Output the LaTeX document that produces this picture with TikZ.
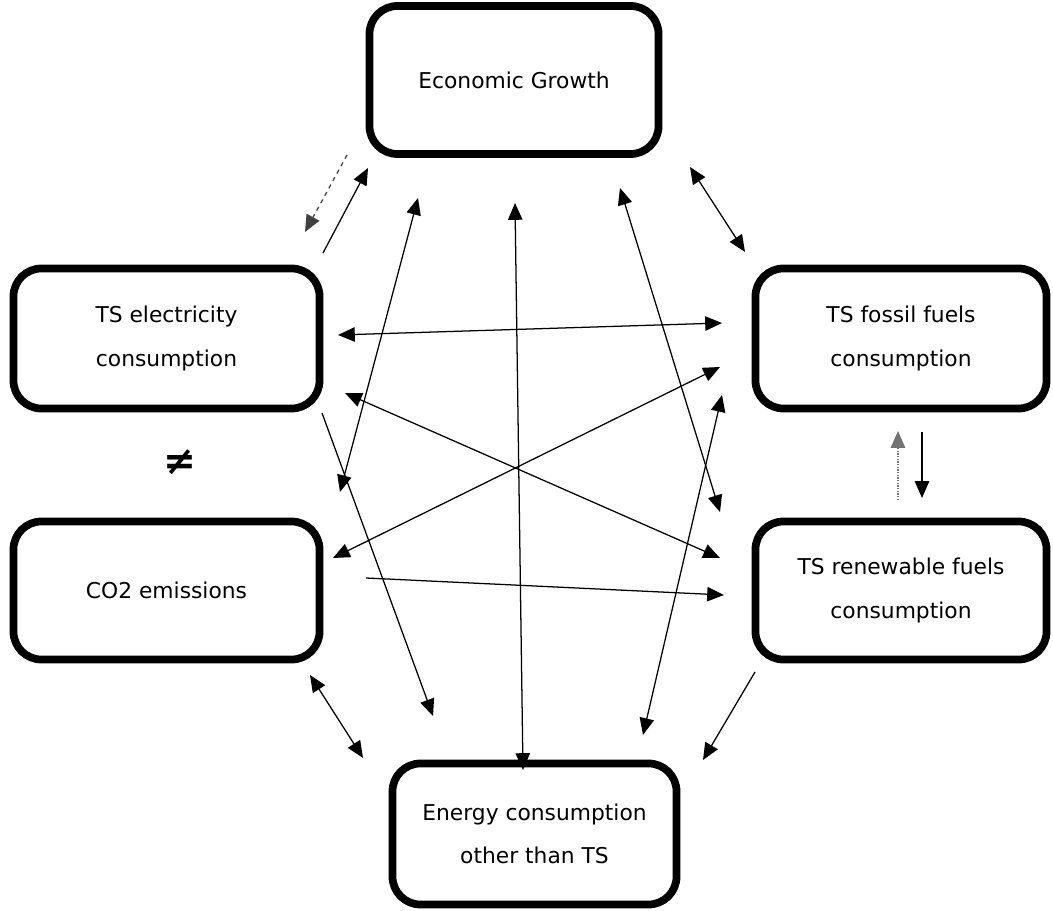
\documentclass[tikz,border=0pt]{standalone}
\usepackage{fontspec}
\setmainfont{DejaVu Sans}
\usetikzlibrary{arrows.meta}
\tikzset{
    box/.style = {draw, line width = 5.5pt, rounded corners = 0.7cm, align = center, font = {\fontsize{15.5}{31}\selectfont}},
    tip/.tip = {Triangle[length = 0.42cm, width = 0.36cm]},
    link/.style = {line width = 0.9pt, tip-tip},
    oneway/.style = {line width = 0.9pt, -tip},
    sign/.style = {font = {\fontsize{28}{28}\selectfont\bfseries}}
}
\begin{document}
\begin{tikzpicture}[x = 0.025cm, y = -0.025cm]
                \useasboundingbox (0,0) rectangle (1053,911);
                \node[box, minimum width = 7.225cm, minimum height = 3.7cm] (growth) at (514,80) {Economic Growth};
                \node[box, minimum width = 7.65cm, minimum height = 3.5cm] (elec) at (166.5,338.5) {TS electricity\\consumption};
                \node[box, minimum width = 7.275cm, minimum height = 3.5cm] (fossil) at (901,338.5) {TS fossil fuels\\consumption};
                \node[box, minimum width = 7.65cm, minimum height = 3.45cm] (co2) at (166.5,590.5) {CO2 emissions};
                \node[box, minimum width = 7.275cm, minimum height = 3.45cm] (renew) at (901,590.5) {TS renewable fuels\\consumption};
                \node[box, minimum width = 7.1cm, minimum height = 3.525cm] (energy) at (534.5,834) {Energy consumption\\other than TS};
                \node[sign] (unequal) at (180,462) {≠};
                \coordinate (ge1) at (347,155);
                \coordinate (ge2) at (305,232);
                \coordinate (eg1) at (323,253);
                \coordinate (eg2) at (368,168);
                \coordinate (gc1) at (418,198);
                \coordinate (gc2) at (340,492);
                \coordinate (gn1) at (515,203);
                \coordinate (gn2) at (523,770);
                \coordinate (gr1) at (620,188);
                \coordinate (gr2) at (720,512);
                \coordinate (gf1) at (690,167);
                \coordinate (gf2) at (745,252);
                \coordinate (ef1) at (338,335);
                \coordinate (ef2) at (722,323);
                \coordinate (er1) at (345,393);
                \coordinate (er2) at (720,558);
                \coordinate (cf1) at (333,558);
                \coordinate (cf2) at (720,367);
                \coordinate (en1) at (322,413);
                \coordinate (en2) at (433,716);
                \coordinate (cr1) at (366,578);
                \coordinate (cr2) at (724,595);
                \coordinate (fn1) at (643,735);
                \coordinate (fn2) at (722,395);
                \coordinate (rn1) at (755,672);
                \coordinate (rn2) at (703,760);
                \coordinate (cn1) at (310,675);
                \coordinate (cn2) at (363,758);
                \coordinate (rf1) at (898,500);
                \coordinate (rf2) at (898,431);
                \coordinate (fr1) at (922,432);
                \coordinate (fr2) at (922,498);
                \draw[oneway, dashed, black!75] (ge1) -- (ge2);
                \draw[oneway] (eg1) -- (eg2);
                \draw[link] (gc1) -- (gc2);
                \draw[link] (gn1) -- (gn2);
                \draw[link] (gr1) -- (gr2);
                \draw[link] (gf1) -- (gf2);
                \draw[link] (ef1) -- (ef2);
                \draw[link] (er1) -- (er2);
                \draw[link] (cf1) -- (cf2);
                \draw[oneway] (en1) -- (en2);
                \draw[oneway] (cr1) -- (cr2);
                \draw[link] (fn1) -- (fn2);
                \draw[oneway] (rn1) -- (rn2);
                \draw[link] (cn1) -- (cn2);
                \draw[oneway, densely dotted, black!55] (rf1) -- (rf2);
                \draw[oneway] (fr1) -- (fr2);
            \end{tikzpicture}
\end{document}
